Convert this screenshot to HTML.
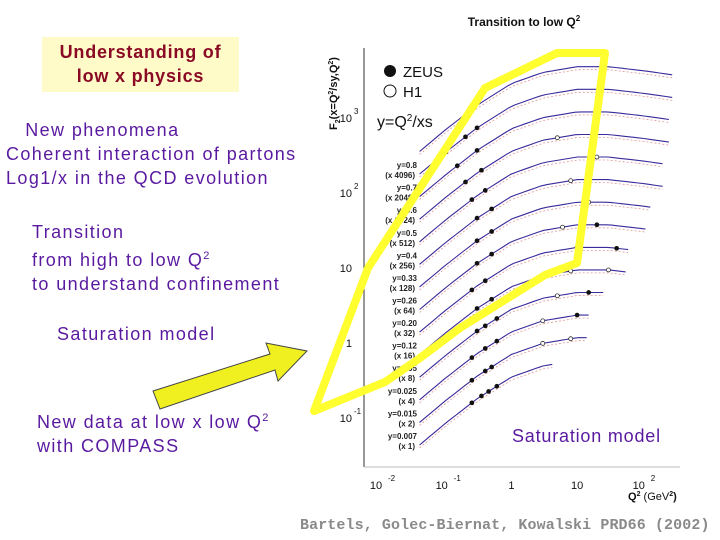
<!DOCTYPE html>
<html><head><meta charset="utf-8"><style>
body{margin:0;width:720px;height:540px;background:#fff;overflow:hidden;position:relative;font-family:"Liberation Sans",sans-serif}
.t{position:absolute;white-space:nowrap;color:#5a1aa0;font-size:18px;line-height:24px;letter-spacing:1.4px}
</style></head><body>
<div style="position:absolute;left:42px;top:37px;width:197px;height:55px;background:#fffbc8"></div>
<div class="t" style="left:42px;top:40px;width:197px;text-align:center;color:#8a0a26;font-weight:bold;font-size:18px;line-height:24px;letter-spacing:0.8px">Understanding of<br>low x physics</div>
<div class="t" style="left:6px;top:118px">&nbsp;&nbsp;&nbsp;New phenomena<br>Coherent interaction of partons<br>Log1/x in the QCD evolution</div>
<div class="t" style="left:32px;top:220px">Transition<br>from high to low Q<sup style="font-size:11px">2</sup><br>to understand confinement</div>
<div class="t" style="left:57px;top:322px">Saturation model</div>
<div class="t" style="left:37px;top:406px">New data at low x low Q<sup style="font-size:11px">2</sup><br>with COMPASS</div>
<div class="t" style="left:300px;top:514px;color:#8a8a8a;font-weight:bold;font-size:15px;font-family:'Liberation Mono',monospace;letter-spacing:0.1px">Bartels, Golec-Biernat, Kowalski PRD66 (2002)</div>
<svg id="ch" width="720" height="540" style="position:absolute;left:0;top:0"></svg>
<script>
const xTickVals=[0.01,0.1,1,10,100];
const xTickLabels=["10","10","1","10","10"];
const xTickExp=["-2","-1","","","2"];
const yTickVals=[1000,100,10,1,0.1];
const yTickLabels=["10","10","10","1","10"];
const yTickExp=["3","2","","","-1"];
const shapeQ2=[0.04,0.1,0.3,1,3,10,30,100,300];
const shapeF=[0.046,0.09,0.19,0.37,0.52,0.62,0.62,0.55,0.48];
const curveScale=[1,2,4,8,16,32,64,128,256,512,1024,2048,4096,8192];
const curveEnd=[4.2,14,15,25,55,60,110,130,200,200,250,250,280,280];
const curveLabels=["y=0.007","y=0.015","y=0.025","y=0.05","y=0.12","y=0.20","y=0.26","y=0.33","y=0.4","y=0.5","y=0.6","y=0.7","y=0.8"];
const curveFactors=["(x 1)","(x 2)","(x 4)","(x 8)","(x 16)","(x 32)","(x 64)","(x 128)","(x 256)","(x 512)","(x 1024)","(x 2048)","(x 4096)"];
const dotCurve=[0,0,0,0,1,1,1,1,1,2,2,2,2,2,3,3,3,3,3,4,4,4,4,5,5,5,5,6,6,6,6,7,7,7,8,8,8,9,9,9,10,10,10,11,11,12,12,12];
const dotQ2=[0.25,0.35,0.45,0.6,0.25,0.4,0.5,3,8,0.25,0.4,0.6,3,10,0.3,0.4,0.6,5,15,0.3,0.5,8,30,0.25,0.4,10,40,0.3,0.5,6,20,0.3,0.5,15,0.3,0.5,8,0.25,0.4,20,0.2,0.35,5,0.15,0.3,0.1,0.2,0.3];
const dotOpen=[0,0,0,0,0,0,0,1,1,0,0,0,1,0,0,0,0,1,0,0,0,1,1,0,0,1,0,0,0,1,0,0,0,1,0,0,1,0,0,1,0,0,1,0,0,0,0,0];
const ns="http://www.w3.org/2000/svg",svg=document.getElementById('ch');
const X0=380,DX=65.7,Y0=343,DY=75;
const xs=q=>X0+(Math.log10(q)+2)*DX;
const ys=f=>Y0-Math.log10(f)*DY;
function mk(t,a,p){const e=document.createElementNS(ns,t);for(const k in a)e.setAttribute(k,a[k]);(p||svg).appendChild(e);return e;}
function shape(q){const l=Math.log10(q);for(let i=0;i<shapeQ2.length-1;i++){const a=Math.log10(shapeQ2[i]),b=Math.log10(shapeQ2[i+1]);if(l<=b||i==shapeQ2.length-2){const t=(l-a)/(b-a);return Math.pow(10,Math.log10(shapeF[i])*(1-t)+Math.log10(shapeF[i+1])*t);}}}
const base=0.95;
let ax=mk('line',{x1:364,y1:48,x2:364,y2:467,stroke:'#333','stroke-width':1});

let bx=mk('line',{x1:364,y1:467,x2:680,y2:467,stroke:'#bbb','stroke-width':1});

xTickVals.forEach((v,i)=>{const t=mk('text',{x:xs(v)-(xTickExp[i]?4:0),y:489,'font-size':11,'text-anchor':'middle',fill:'#111'});t.textContent=xTickLabels[i];

if(xTickExp[i]){const s=mk('text',{x:xs(v)+8,y:481,'font-size':8,fill:'#111'});s.textContent=xTickExp[i];}});
yTickVals.forEach((v,i)=>{const t=mk('text',{x:352,y:ys(v)+4,'font-size':11,'text-anchor':'end',fill:'#111'});t.textContent=yTickLabels[i];

if(yTickExp[i]){const s=mk('text',{x:354,y:ys(v)-4,'font-size':8,fill:'#111'});s.textContent=yTickExp[i];}});
curveScale.forEach((sc,i)=>{let d='';const q0=Math.log10(0.04),q1=Math.log10(curveEnd[i]);
for(let k=0;k<=40;k++){const q=Math.pow(10,q0+(q1-q0)*k/40);d+=(k?'L':'M')+xs(q).toFixed(1)+' '+ys(shape(q)*sc*base).toFixed(1);}
const p=mk('path',{d:d,fill:'none',stroke:'#3a2a9a','stroke-width':1.1});

const p2=mk('path',{d:d,fill:'none',stroke:'#d05050','stroke-width':0.8,'stroke-dasharray':'2 2',transform:'translate(0 3)',opacity:0.6});

if(i<curveLabels.length){const y=ys(0.046*sc*base);
const a=mk('text',{x:417,y:y-6,'font-size':8,'text-anchor':'end','font-weight':'bold',fill:'#222'});a.textContent=curveLabels[i];
const b=mk('text',{x:415,y:y+4,'font-size':8,'text-anchor':'end','font-weight':'bold',fill:'#222'});b.textContent=curveFactors[i];}
});
dotQ2.forEach((q,i)=>{const c=mk('circle',{cx:xs(q),cy:ys(shape(q)*curveScale[dotCurve[i]]*base),r:2,fill:dotOpen[i]?'#fff':'#111',stroke:'#111','stroke-width':0.7});
});
</script>
<svg width="720" height="540" style="position:absolute;left:0;top:0">
<polygon points="314,411 368,268 485,88 557,53 605,53 577,263 545,275 500,303 460,328 420,358 385,382" fill="none" stroke="#ffff30" stroke-width="8" stroke-linejoin="round"/>
<polygon points="153,391 270,354 266,343 307,351 278,381 275,370 160,409" fill="#f0f020" stroke="#444" stroke-width="1"/>
<text x="524" y="26" font-size="12" font-weight="bold" text-anchor="middle" fill="#111">Transition to low Q<tspan dy="-5" font-size="8">2</tspan></text>
<text transform="translate(337,130) rotate(-90)" font-size="11" font-weight="bold" fill="#111">F<tspan font-size="7" dy="3">2</tspan><tspan dy="-3">(x=Q</tspan><tspan font-size="7" dy="-4">2</tspan><tspan dy="4">/sy,Q</tspan><tspan font-size="7" dy="-4">2</tspan><tspan dy="4">)</tspan></text>
<text x="628" y="500" font-size="11" font-weight="bold" fill="#111">Q<tspan dy="-4" font-size="7">2</tspan><tspan dy="4" font-weight="normal"> (GeV</tspan><tspan dy="-4" font-size="7">2</tspan><tspan dy="4">)</tspan></text>
<circle cx="390" cy="71" r="6" fill="#111"/>
<text x="403" y="77" font-size="15" fill="#111">ZEUS</text>
<circle cx="390" cy="91" r="6" fill="#fff" stroke="#111"/>
<text x="403" y="97" font-size="15" fill="#111">H1</text>
<text x="377" y="127" font-size="16" fill="#111">y=Q<tspan dy="-6" font-size="10">2</tspan><tspan dy="6">/xs</tspan></text>
<text x="512" y="442" font-size="18" fill="#5a1aa0" letter-spacing="0.8">Saturation model</text>
</svg>
</body></html>
